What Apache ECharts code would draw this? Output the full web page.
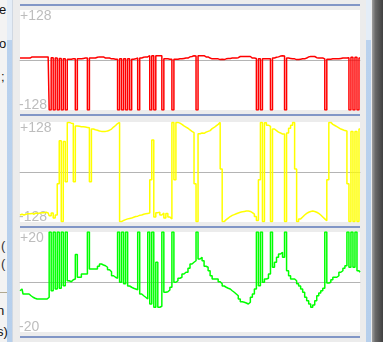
<!DOCTYPE html>
<html><head><meta charset="utf-8">
<script src="https://cdn.jsdelivr.net/npm/echarts@6/dist/echarts.min.js"></script>
<style>
html,body{margin:0;padding:0;width:383px;height:342px;overflow:hidden;background:#ececec;font-family:"Liberation Sans",Arial,sans-serif;}
#chart{position:absolute;left:0;top:0;width:383px;height:342px;}
.sep{position:absolute;left:20px;width:340px;height:2px;background:#8196c6;}
.bar{position:absolute;top:0;width:5px;height:342px;background:linear-gradient(to bottom,#e4edf7 0,#e4edf7 40px,#bad2ee 40px,#b6cfec 100%);}
.frag{position:absolute;font-size:13px;line-height:13px;color:#111;white-space:nowrap;}
</style></head>
<body>
<div style="position:absolute;left:0;top:0;width:7px;height:342px;background:#f3f3f3;"></div>
<div class="bar" style="left:7px;"></div>
<div style="position:absolute;left:12px;top:0;width:1px;height:342px;background:#d0d8e2;"></div>
<div class="bar" style="left:366px;"></div>
<div style="position:absolute;left:372px;top:0;width:11px;height:342px;background:linear-gradient(to right,#a0a0a0 0,#6a6a6a 30%,#404040 100%);"></div>
<div class="frag" style="left:-1px;top:3px;">e</div>
<div class="frag" style="left:-1px;top:37px;">o</div>
<div class="frag" style="left:1px;top:70px;">;</div>
<div class="frag" style="left:1px;top:239px;color:#333;">(</div>
<div class="frag" style="left:1px;top:257px;color:#333;">(</div>
<div style="position:absolute;left:0;top:292px;width:7px;height:1px;background:#b0a890;"></div>
<div class="frag" style="left:-3px;top:304px;">n</div>
<div class="frag" style="left:-3px;top:325px;">s)</div>
<div class="sep" style="top:4px;"></div>
<div class="sep" style="top:114px;"></div>
<div class="sep" style="top:226px;"></div>
<div class="sep" style="top:336px;"></div>
<div id="chart"></div>
<script>
// Panel 1 (red), range -128..+128
const redValues = [
5,5,5,5,5,5,8,8,8,8,
8,8,8,8,8,-128,6,-128,5,-128,
4,-128,3,-128,2,2,3,3,-128,3,
3,4,5,5,-128,5,5,5,7,8,
8,8,5,5,5,3,3,2,2,-128,
3,-128,3,-128,3,-128,2,3,5,-128,
5,7,8,8,11,-128,11,-128,11,11,
11,-128,3,3,2,2,-128,2,2,3,
3,4,5,5,8,9,11,10,-128,11,
11,11,8,8,5,3,3,3,3,1,
2,1,3,4,4,5,5,5,6,9,
9,9,9,9,9,5,5,4,-128,3,
-128,3,3,3,3,-128,5,7,8,10,
11,10,-128,5,4,3,3,1,1,2,
3,3,5,8,9,9,9,6,5,5,
5,3,-128,2,2,3,3,3,3,4,
5,5,5,6,-128,7,-128,7,-128,5
];
// Panel 2 (yellow), range -128..+128
const yellowValues = [
-110,-108,-110,-108,-107,-107,-106,-108,-105,-106,
-105,-104,-104,-103,-105,-112,-105,-118,-110,-30,
80,-127,78,-25,127,125,124,-25,118,117,
116,116,115,114,113,-25,110,108,107,105,
104,104,104,105,107,110,115,119,124,127,
-127,-124,-122,-120,-119,-118,-116,-114,-113,-111,
-110,-108,-107,-106,-105,-20,82,-115,-104,-103,
-110,-105,-118,-106,-115,-120,127,-20,127,125,
122,118,115,112,108,104,101,-30,-127,98,
100,99,102,104,106,111,114,118,122,127,
8,-127,-122,-118,-114,-111,-109,-107,-105,-103,
-102,-101,-100,-100,-101,-104,-108,-114,-124,-20,
127,-127,126,120,117,-127,110,106,102,100,
97,97,-127,100,112,120,127,8,-127,-120,
-115,-110,-106,-103,-101,-100,-101,-103,-106,-110,
-115,-120,-125,-20,127,122,119,116,113,110,
108,106,105,-30,-127,104,-127,104,-127,110
];
// Panel 3 (green), range -20..+20
const greenValues = [
-3.5,-2.8,-4.8,-4.8,-4.8,-5.5,-6.1,-6.5,-6.8,-6.8,
-6.8,-6.8,-6.8,-6.8,-6.1,20,-3.5,20,-2.8,20,
-2.5,20,-1.5,20,0.5,0.1,0.9,1.2,11,1.9,
1.9,3.2,3.2,3.2,20,5.2,5.2,5.2,5.2,6.3,
7.2,6.8,6.5,5.9,4.9,4.1,2.5,1.9,1.5,20,
-0.1,20,-0.7,20,-1.6,-2.1,-2.5,-2.8,-3.1,20,
-4.8,-5.5,-6.1,-6.8,20,-8.8,20,-10.1,7.9,-10.1,
-9.7,20,-4.1,-3.9,-3.2,-2.1,20,-0.1,0.5,1.5,
1.9,3.2,3.9,3.9,5.5,7.2,7.9,8.5,20,9.2,
9.9,8.5,6.3,5.9,4.5,2.5,1.2,1.2,1.2,0.1,
-0.7,-1.6,-2.1,-2.5,-2.8,-3.5,-4.1,-4.8,-5.5,-6.8,
-7.9,-8.1,-8.4,-8.8,-8.1,-6.1,-4.8,-2.8,20,-1.5,
20,-0.1,1.2,1.5,3.2,20,5.9,7.9,9.9,11.2,
11.9,9.9,20,4.5,2.5,1.2,1.2,0.5,-0.7,-1.6,
-2.8,-4.1,-6.1,-7.5,-8.8,-10.1,-9.2,-7.5,-5.5,-4.4,
-3.5,-2.5,20,-0.4,-0.1,0.9,1.9,1.9,2.5,3.9,
4.5,5.5,6.5,20,5.9,20,5.9,20,4.5,3.9
];
const sampleIndex = redValues.map((_, i) => i);
const panelRanges = [[-128, 128], [-128, 128], [-20, 20]];
const tickLabels = [['+128', '-128'], ['+128', '-128'], ['+20', '-20']];
const seriesColors = ['#ff0000', '#ffff00', '#00ff00'];
const seriesData = [redValues, yellowValues, greenValues];

const panelTops = [10, 122, 232];

const chart = echarts.init(document.getElementById('chart'), null, {renderer: 'canvas'});
const grids = [], xAxes = [], yAxes = [], series = [], graphics = [];
for (let k = 0; k < 3; k++) {
  grids.push({left: 20, top: panelTops[k], width: 340, height: 100, show: true, backgroundColor: '#ffffff', borderWidth: 0});
  xAxes.push({type: 'category', gridIndex: k, data: sampleIndex, boundaryGap: false,
    axisLine: {show: true, onZero: true, lineStyle: {color: '#b4b4b4', width: 1}},
    axisTick: {show: false}, axisLabel: {show: false}, splitLine: {show: false}});
  yAxes.push({type: 'value', gridIndex: k, min: panelRanges[k][0], max: panelRanges[k][1],
    axisLine: {show: false}, axisTick: {show: false}, axisLabel: {show: false}, splitLine: {show: false}});
  series.push({type: 'line', step: 'middle', xAxisIndex: k, yAxisIndex: k, data: seriesData[k], symbol: 'none', showSymbol: false,
    clip: true, lineStyle: {color: seriesColors[k], width: 1.5}, itemStyle: {color: seriesColors[k]}, z: 3});
  graphics.push({type: 'text', left: 20, top: panelTops[k] - 1, z: 1,
    style: {text: tickLabels[k][0], fill: '#bdbdbd', fontSize: 14, fontFamily: 'Liberation Sans'}});
  graphics.push({type: 'text', left: 19, top: panelTops[k] + 88, z: 1,
    style: {text: tickLabels[k][1], fill: '#bdbdbd', fontSize: 14, fontFamily: 'Liberation Sans'}});
}
chart.setOption({
  animation: false,
  backgroundColor: 'transparent',
  grid: grids, xAxis: xAxes, yAxis: yAxes, series: series, graphic: graphics
});
</script>
</body></html>
